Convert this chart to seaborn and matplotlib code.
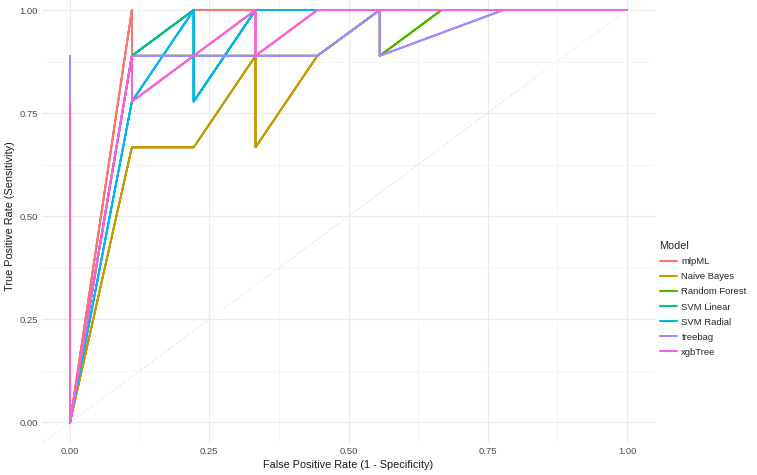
import numpy as np
import pandas as pd
import matplotlib
matplotlib.use("Agg")
import matplotlib.pyplot as plt
import matplotlib.patheffects as pe
import seaborn as sns
from matplotlib.lines import Line2D

models = ["mlpML", "Naive Bayes", "Random Forest", "SVM Linear", "SVM Radial", "treebag", "xgbTree"]
colors = ["#F8766D", "#C49A00", "#53B400", "#00C094", "#00B6EB", "#A58AFF", "#FB61D7"]

mlpML_fpr = [0.0, 0.111, 0.111, 0.222, 1.0]
mlpML_tpr = [0.0, 1.0, 0.889, 1.0, 1.0]
nb_fpr = [0.0, 0.111, 0.222, 0.333, 0.333, 0.444, 0.556, 1.0]
nb_tpr = [0.0, 0.667, 0.667, 0.889, 0.667, 0.889, 1.0, 1.0]
rf_fpr = [0.0, 0.111, 0.444, 0.556, 0.556, 0.667, 1.0]
rf_tpr = [0.0, 0.889, 0.889, 1.0, 0.889, 1.0, 1.0]
svml_fpr = [0.0, 0.111, 0.222, 0.222, 0.333, 1.0]
svml_tpr = [0.0, 0.889, 1.0, 0.778, 1.0, 1.0]
svmr_fpr = [0.0, 0.111, 0.222, 0.222, 0.333, 1.0]
svmr_tpr = [0.0, 0.778, 1.0, 0.778, 1.0, 1.0]
tb_fpr = [0.0, 0.0, 0.111, 0.444, 0.556, 0.556, 0.778, 1.0]
tb_tpr = [0.889, 0.0, 0.889, 0.889, 1.0, 0.889, 1.0, 1.0]
xgb_fpr = [0.0, 0.0, 0.111, 0.111, 0.333, 0.333, 0.444, 1.0]
xgb_tpr = [0.778, 0.0, 0.889, 0.778, 1.0, 0.889, 1.0, 1.0]

series = {
    "mlpML": (mlpML_fpr, mlpML_tpr),
    "Naive Bayes": (nb_fpr, nb_tpr),
    "Random Forest": (rf_fpr, rf_tpr),
    "SVM Linear": (svml_fpr, svml_tpr),
    "SVM Radial": (svmr_fpr, svmr_tpr),
    "treebag": (tb_fpr, tb_tpr),
    "xgbTree": (xgb_fpr, xgb_tpr),
}

xticks = [0.0, 0.25, 0.5, 0.75, 1.0]
yticks = [0.0, 0.25, 0.5, 0.75, 1.0]
tick_labels = ["0.00", "0.25", "0.50", "0.75", "1.00"]

rows = []
for m in models:
    f, t = series[m]
    for i, (a, b) in enumerate(zip(f, t)):
        rows.append({"Model": m, "FPR": a, "TPR": b, "step": i})
df = pd.DataFrame(rows)

sns.set_theme(style="white")
plt.rcParams["font.family"] = ["Liberation Sans", "DejaVu Sans"]

fig = plt.figure(figsize=(7.57, 4.75), dpi=100)
ax = fig.add_axes([42.2 / 757, (475 - 443) / 475, 612.7 / 757, 453.6 / 475])

# grid
for v in [0.125, 0.375, 0.625, 0.875]:
    ax.axvline(v, color="#F2F2F2", lw=0.5, zorder=0)
    ax.axhline(v, color="#F2F2F2", lw=0.5, zorder=0)
for v in xticks:
    ax.axvline(v, color="#EBEBEB", lw=0.9, zorder=0)
    ax.axhline(v, color="#EBEBEB", lw=0.9, zorder=0)

ax.axline((0, 0), slope=1, color="#D9D9D9", lw=0.8, ls=(0, (1, 2)), zorder=1)

n_before = len(ax.lines)
sns.lineplot(data=df, x="FPR", y="TPR", hue="Model", hue_order=models,
             palette=colors, sort=False, estimator=None, units="Model",
             lw=1.25, ax=ax, legend=False)
for ln in ax.lines[n_before:]:
    ln.set_path_effects([pe.Normal()] * 5)

ax.set_xlim(-0.05, 1.05)
ax.set_ylim(-0.05, 1.05)
ax.set_xticks(xticks)
ax.set_xticklabels(tick_labels)
ax.set_yticks(yticks)
ax.set_yticklabels(tick_labels)
ax.tick_params(axis="both", length=0, labelsize=6.8, labelcolor="#4D4D4D", pad=3)
for s in ax.spines.values():
    s.set_visible(False)
ax.set_xlabel("False Positive Rate (1 - Specificity)", fontsize=7.8, color="#1A1A1A", labelpad=3)
ax.set_ylabel("True Positive Rate (Sensitivity)", fontsize=7.8, color="#1A1A1A", labelpad=3)

handles = [Line2D([0], [0], color=c, lw=1.5) for c in colors]
leg = fig.legend(handles, models, title="Model", loc="center left",
                 bbox_to_anchor=(653 / 757, 1 - 299 / 475), frameon=False,
                 fontsize=6.8, title_fontsize=7.8, handlelength=1.8,
                 labelspacing=0.64, handletextpad=0.5, borderpad=0.2)
leg._legend_box.align = "left"

fig.savefig("out.png", dpi=100)
